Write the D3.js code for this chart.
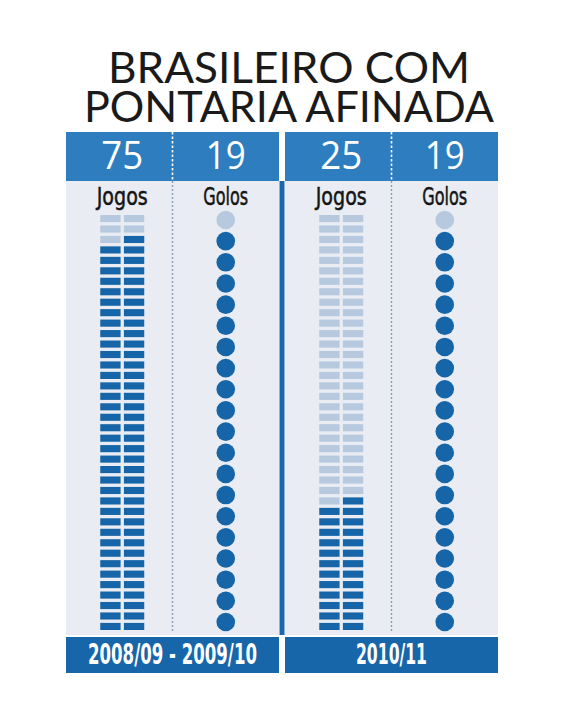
<!DOCTYPE html>
<html>
<head>
<meta charset="utf-8">
<script src="https://cdn.jsdelivr.net/npm/d3@7"></script>
<style>
  html, body { margin: 0; padding: 0; background: #ffffff; }
  svg { display: block; }
</style>
</head>
<body>
<svg id="chart" width="579" height="720"></svg>
<script>
// ---- data ----
const titleLines = ["BRASILEIRO COM", "PONTARIA AFINADA"];
const seasons = ["2008/09 - 2009/10", "2010/11"];
const metrics = ["Jogos", "Golos"];
const jogos = [75, 25];
const golos = [19, 19];
const jogosSlots = 80;   // 40 rows x 2 columns
const golosSlots = 20;

// ---- styles ----
const C = {
  header: "#2d7dbf",
  band: "#1766aa",
  body: "#e9edf3",
  dark: "#1565a8",
  light: "#b6c9de",
  sep: "#1a68ab"
};

const svg = d3.select("#chart");

// title (one text element, two lines)
const title = svg.append("text")
  .attr("class", "title")
  .attr("text-anchor", "middle")
  .attr("font-family", "Lato, 'Noto Sans', sans-serif")
  .attr("font-weight", 400)
  .attr("font-size", 43)
  .attr("fill", "#1a1a1a");
title.selectAll("tspan").data(titleLines).join("tspan")
  .attr("x", 289)
  .attr("y", (d, i) => 83 + i * 38.5)
  .attr("textLength", (d, i) => i === 0 ? 362 : 410)
  .attr("lengthAdjust", "spacingAndGlyphs")
  .text(d => d);

// panel scale
const xPanel = d3.scaleBand().domain(seasons).range([66, 498]).paddingInner(0.0274);
const bw = xPanel.bandwidth();
const xMetric = d3.scaleBand().domain(metrics).range([0, bw]);

const yTop = 132, yHeadBot = 181, yBodyBot = 635, yBandTop = 637, yBandBot = 673;

// rows for Jogos cells
const rows = 40;
const yRow = d3.scaleBand().domain(d3.range(rows)).range([215, 630]).paddingInner(0.32);
const xCell = d3.scaleBand().domain([0, 1]).range([-22, 22]).paddingInner(0.14);
// circles for Golos
const yCirc = d3.scalePoint().domain(d3.range(golosSlots)).range([220, 622]);

// separator strip between panels (body only)
svg.append("rect")
  .attr("x", xPanel(seasons[0]) + bw + 0.5)
  .attr("y", yHeadBot)
  .attr("width", xPanel(seasons[1]) - xPanel(seasons[0]) - bw - 1)
  .attr("height", yBodyBot - yHeadBot)
  .attr("fill", C.sep);

const panels = svg.selectAll("g.panel").data(seasons).join("g")
  .attr("class", "panel")
  .attr("transform", d => `translate(${xPanel(d)},0)`);

// body
panels.append("rect")
  .attr("x", 0).attr("y", yHeadBot).attr("width", bw).attr("height", yBodyBot - yHeadBot)
  .attr("fill", C.body);
// header
panels.append("rect")
  .attr("x", 0).attr("y", yTop).attr("width", bw).attr("height", yHeadBot - yTop)
  .attr("fill", C.header);
// bottom band
panels.append("rect")
  .attr("x", 0).attr("y", yBandTop).attr("width", bw).attr("height", yBandBot - yBandTop)
  .attr("fill", C.band);

// dashed divider
panels.append("line")
  .attr("x1", xMetric("Golos")).attr("x2", xMetric("Golos"))
  .attr("y1", yTop).attr("y2", yHeadBot)
  .attr("stroke", "#ffffff").attr("stroke-width", 1.6)
  .attr("stroke-dasharray", "2.5,2");
panels.append("line")
  .attr("x1", xMetric("Golos")).attr("x2", xMetric("Golos"))
  .attr("y1", yHeadBot).attr("y2", yBodyBot - 2)
  .attr("stroke", "#8a9db5").attr("stroke-width", 1.4)
  .attr("stroke-dasharray", "2,2");

// header numbers
const jogosC = xMetric("Jogos") + xMetric.bandwidth() / 2 + 3;
const golosC = xMetric("Golos") + xMetric.bandwidth() / 2;
const headerVals = (d, i) => [
  { x: jogosC, v: jogos[i], w: 42 },
  { x: golosC, v: golos[i], w: 40 }
];
panels.each(function (d, i) {
  const g = d3.select(this);
  const hv = headerVals(d, i);
  g.selectAll("text.num").data(hv).join("text")
    .attr("class", "num")
    .attr("x", e => e.x)
    .attr("y", 169)
    .attr("text-anchor", "middle")
    .attr("font-family", "'Open Sans', Lato, sans-serif")
    .attr("font-weight", 400)
    .attr("font-size", 39)
    .attr("fill", "#ffffff")
    .attr("textLength", e => e.w)
    .attr("lengthAdjust", "spacingAndGlyphs")
    .text(e => e.v);

  g.selectAll("text.lab").data(metrics).join("text")
    .attr("class", "lab")
    .attr("x", m => m === "Jogos" ? jogosC : golosC)
    .attr("y", 205)
    .attr("text-anchor", "middle")
    .attr("font-family", "'Liberation Sans Narrow', 'DejaVu Sans Condensed', sans-serif")
    .attr("font-weight", 400)
    .attr("font-size", 25)
    .attr("fill", "#151515")
    .attr("stroke", "#151515")
    .attr("stroke-width", 0.5)
    .attr("textLength", m => m === "Jogos" ? 51 : 45)
    .attr("lengthAdjust", "spacingAndGlyphs")
    .text(m => m);

  // Jogos cells: index from bottom, right column fills first
  const cells = d3.range(jogosSlots).map(k => ({
    row: rows - 1 - Math.floor(k / 2),
    col: 1 - (k % 2),
    on: k < jogos[i]
  }));
  g.selectAll("rect.cell").data(cells).join("rect")
    .attr("class", "cell")
    .attr("x", c => jogosC + xCell(c.col))
    .attr("y", c => yRow(c.row))
    .attr("width", xCell.bandwidth())
    .attr("height", yRow.bandwidth())
    .attr("fill", c => c.on ? C.dark : C.light);

  // Golos circles: index from bottom
  const circ = d3.range(golosSlots).map(k => ({
    pos: golosSlots - 1 - k,
    on: k < golos[i]
  }));
  g.selectAll("circle.goal").data(circ).join("circle")
    .attr("class", "goal")
    .attr("cx", golosC)
    .attr("cy", c => yCirc(c.pos))
    .attr("r", 9.3)
    .attr("fill", c => c.on ? C.dark : C.light);

  // season label
  g.append("text")
    .attr("x", bw / 2)
    .attr("y", 664)
    .attr("text-anchor", "middle")
    .attr("font-family", "'Liberation Sans Narrow', 'DejaVu Sans Condensed', sans-serif")
    .attr("font-weight", 700)
    .attr("font-size", 28)
    .attr("fill", "#ffffff")
    .attr("textLength", i === 0 ? 169 : 71)
    .attr("lengthAdjust", "spacingAndGlyphs")
    .text(d);
});
</script>
</body>
</html>
